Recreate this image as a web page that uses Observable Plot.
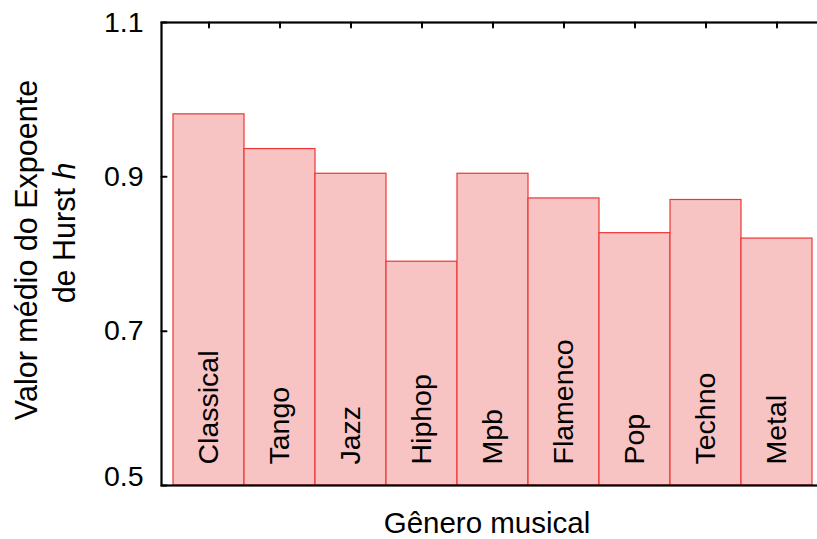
<!DOCTYPE html>
<html>
<head>
<meta charset="utf-8">
<script src="https://cdn.jsdelivr.net/npm/d3@7"></script>
<script src="https://cdn.jsdelivr.net/npm/@observablehq/plot@0.6"></script>
<style>
  html, body { margin: 0; padding: 0; background: white; overflow: hidden; }
  #chart svg { display: block; }
</style>
</head>
<body>
<div id="chart"></div>
<script>
const genres = ["Classical", "Tango", "Jazz", "Hiphop", "Mpb", "Flamenco", "Pop", "Techno", "Metal"];
const hurst = [0.981, 0.936, 0.904, 0.790, 0.904, 0.872, 0.827, 0.870, 0.820];
const yTicks = [0.5, 0.7, 0.9, 1.1];
const yLabel1 = "Valor médio do Expoente";
const yLabel2 = "de Hurst ";
const yLabel2Italic = "h";
const xLabel = "Gênero musical";

const data = genres.map((g, i) => ({genre: g, value: hurst[i]}));
const yBase = yTicks[0];
const font = "'Liberation Sans', Arial, Helvetica, sans-serif";
const tickShape = {draw(context, l) { context.moveTo(0, 0); context.lineTo(0, -l); }};
const fmt = d3.format(".1f");

const W = 817, H = 539;
const chart = Plot.plot({
  width: W,
  height: H,
  marginLeft: 161,
  marginRight: -6,
  marginTop: 22,
  marginBottom: 54,
  style: {fontFamily: font, fontSize: "28px", background: "white", color: "black"},
  x: {type: "band", domain: genres, range: [173, 812.3], padding: 0, axis: null},
  y: {domain: [yTicks[0], yTicks[yTicks.length - 1]], axis: null},
  marks: [
    Plot.barY(data, {x: "genre", y1: () => yBase, y2: "value", fill: "#f7c3c3", stroke: "#f03535", strokeWidth: 1.2}),
    Plot.text(data, {x: "genre", y: () => yBase, text: "genre", rotate: -90, textAnchor: "start", lineAnchor: "middle", dy: -21, fontSize: 28.5, fill: "black"}),
    Plot.frame({stroke: "black", strokeWidth: 2.2}),
    Plot.vector(yTicks, {y: d => d, frameAnchor: "left", length: 5, rotate: 90, anchor: "start", shape: tickShape, stroke: "black", strokeWidth: 2}),
    Plot.vector(genres, {x: d => d, frameAnchor: "top", length: 5, rotate: 180, anchor: "start", shape: tickShape, stroke: "black", strokeWidth: 2}),
    Plot.text(yTicks.slice(1), {y: d => d, frameAnchor: "left", dx: -18, textAnchor: "end", lineAnchor: "middle", text: fmt, fontSize: 28.5, fill: "black"}),
    Plot.text(yTicks.slice(0, 1), {y: d => d, frameAnchor: "left", dx: -18, dy: -9, textAnchor: "end", lineAnchor: "middle", text: fmt, fontSize: 28.5, fill: "black"})
  ]
});

const svg = d3.select(chart);
svg.append("text")
  .attr("transform", "translate(26,250) rotate(-90)")
  .attr("text-anchor", "middle")
  .attr("dominant-baseline", "central")
  .attr("font-family", font)
  .attr("font-size", 30.5)
  .attr("fill", "black")
  .text(yLabel1);
const l2 = svg.append("text")
  .attr("transform", "translate(64,233) rotate(-90)")
  .attr("text-anchor", "middle")
  .attr("dominant-baseline", "central")
  .attr("font-family", font)
  .attr("font-size", 30.5)
  .attr("fill", "black");
l2.append("tspan").text(yLabel2);
l2.append("tspan").attr("font-style", "italic").text(yLabel2Italic);
svg.append("text")
  .attr("x", 487)
  .attr("y", 522)
  .attr("text-anchor", "middle")
  .attr("dominant-baseline", "central")
  .attr("font-family", font)
  .attr("font-size", 29.5)
  .attr("fill", "black")
  .text(xLabel);

document.getElementById("chart").appendChild(chart);
</script>
</body>
</html>
